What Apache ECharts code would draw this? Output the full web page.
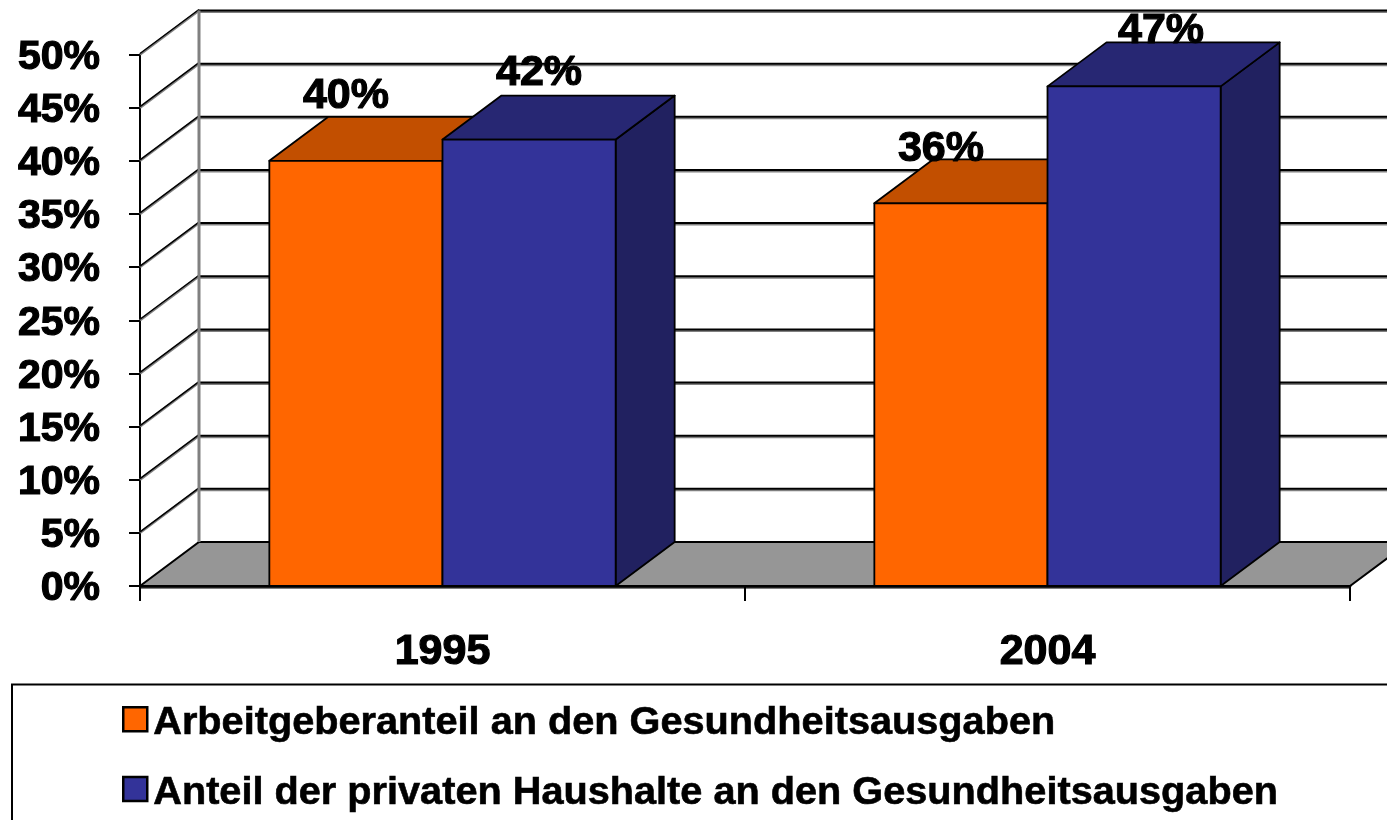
<!DOCTYPE html>
<html><head><meta charset="utf-8">
<style>html,body{margin:0;padding:0;background:#fff}#c{width:1387px;height:820px}</style>
<script src="https://cdn.jsdelivr.net/npm/echarts@6/dist/echarts.min.js"></script>
</head><body><div id="c"></div>
<script>
const categories = ['1995', '2004'];
const seriesNames = ['Arbeitgeberanteil an den Gesundheitsausgaben', 'Anteil der privaten Haushalte an den Gesundheitsausgaben'];
const employerShare = [40, 36];
const householdShare = [42, 47];
const axisTicks = [0, 5, 10, 15, 20, 25, 30, 35, 40, 45, 50];

const DX = 59, DY = 44;
const BAR_RATIO = 0.2862;
const FONT = '"Liberation Sans", Arial, sans-serif';
// manual label placement from the reference, relative to bar front-top centre: [dx, dy]
const employerNudge = [[-10, -65], [-20, -54]];
const householdNudge = [[10, -66], [27, -55]];

function prism(api, seriesIdx, colors, nudges) {
  const cat = api.value(0), val = api.value(1);
  const base = api.coord([cat, 0]);
  const top = api.coord([cat, val]);
  const w = api.size([1, 0])[0] * BAR_RATIO;
  const x0 = base[0] + (seriesIdx === 0 ? -w : 0), x1 = x0 + w;
  const border = {stroke: '#000', lineWidth: 1.8, lineJoin: 'round'};
  const n = nudges[cat];
  return {type: 'group', children: [
    {type: 'polygon', shape: {points: [[x1, base[1]], [x1 + DX, base[1] - DY], [x1 + DX, top[1] - DY], [x1, top[1]]]},
      style: Object.assign({fill: colors.side}, border)},
    {type: 'polygon', shape: {points: [[x0, top[1]], [x0 + DX, top[1] - DY], [x1 + DX, top[1] - DY], [x1, top[1]]]},
      style: Object.assign({fill: colors.top}, border)},
    {type: 'rect', shape: {x: x0, y: top[1], width: w, height: base[1] - top[1]},
      style: Object.assign({fill: colors.front}, border)},
    {type: 'text', z2: 50, style: {x: (x0 + x1) / 2 + n[0], y: top[1] + n[1], text: val + '%',
      font: 'bold 43px ' + FONT, fill: '#000', stroke: '#000', lineWidth: 1.2, align: 'center', verticalAlign: 'middle'}}
  ]};
}

const chart = echarts.init(document.getElementById('c'), null, {renderer: 'canvas'});
const option = {
  animation: false,
  backgroundColor: '#fff',
  grid: {left: 140, right: 37, top: 54.5, bottom: 234},
  xAxis: {
    type: 'category', data: categories, boundaryGap: true,
    axisLine: {lineStyle: {color: '#000', width: 2.5}},
    axisTick: {show: true, length: 15, lineStyle: {color: '#000', width: 2}},
    axisLabel: {color: '#000', fontFamily: FONT, fontWeight: 'bold', fontSize: 43, margin: 45,
      textBorderColor: '#000', textBorderWidth: 1.2},
    z: 6
  },
  yAxis: {
    type: 'value', min: 0, max: 50, interval: 5,
    axisLine: {show: true, lineStyle: {color: '#000', width: 2}},
    axisTick: {show: true, length: 11, lineStyle: {color: '#000', width: 2}},
    axisLabel: {color: '#000', fontFamily: FONT, fontWeight: 'bold', fontSize: 41, margin: 40,
      verticalAlign: 'top', lineHeight: 6,
      formatter: '{value}%', textBorderColor: '#000', textBorderWidth: 1.2},
    splitLine: {show: false}
  },
  legend: {
    show: true, selectedMode: false, orient: 'vertical', left: 117, top: 698, height: 300, padding: 5,
    itemWidth: 24, itemHeight: 24, itemGap: 29, icon: 'rect',
    itemStyle: {borderColor: '#000', borderWidth: 2.5},
    formatter: name => '{a|' + name + '}',
    textStyle: {color: '#000', fontFamily: FONT, fontWeight: 'bold', fontSize: 39.7,
      textBorderColor: '#000', textBorderWidth: 0.6,
      rich: {a: {color: '#000', fontFamily: FONT, fontWeight: 'bold', fontSize: 39.7, padding: [8, 0, 0, 1],
        textBorderColor: '#000', textBorderWidth: 0.6}}},
    data: seriesNames
  },
  graphic: [{type: 'rect', z: -1, shape: {x: 12, y: 684.5, width: 1500, height: 300},
    style: {fill: '#fff', stroke: '#000', lineWidth: 2}}],
  series: [
    {
      name: 'walls', type: 'custom', coordinateSystem: 'cartesian2d', silent: true, z: 1,
      data: axisTicks.map(t => [0, t]),
      encode: {x: 0, y: 1},
      renderItem(params, api) {
        const t = api.value(1);
        const p = api.coord([0, t]);
        const left = params.coordSys.x, right = left + params.coordSys.width;
        const y = p[1];
        const kids = [];
        if (t === 0) {
          kids.push({type: 'polygon', shape: {points: [[left, y], [left + DX, y - DY], [right + DX, y - DY], [right, y]]},
            style: {fill: '#969696', stroke: '#000', lineWidth: 2}});
          kids.push({type: 'line', shape: {x1: left, y1: y + 2, x2: right, y2: y + 2}, style: {stroke: '#808080', lineWidth: 2}});
        } else {
          kids.push({type: 'line', shape: {x1: left, y1: y, x2: left + DX, y2: y - DY}, style: {stroke: '#808080', lineWidth: 2.5}});
          kids.push({type: 'line', shape: {x1: left, y1: y - 1, x2: left + DX, y2: y - DY - 1}, style: {stroke: '#000', lineWidth: 1.5}});
          kids.push({type: 'line', shape: {x1: left + DX, y1: y - DY + 1.5, x2: right + DX, y2: y - DY + 1.5}, style: {stroke: '#808080', lineWidth: 2}});
          kids.push({type: 'line', shape: {x1: left + DX, y1: y - DY, x2: right + DX, y2: y - DY}, style: {stroke: '#000', lineWidth: 2}});
        }
        if (t === 50) {
          const y0 = api.coord([0, 0])[1];
          kids.push({type: 'line', shape: {x1: left + DX, y1: y - DY, x2: left + DX, y2: y0 - DY}, style: {stroke: '#808080', lineWidth: 3}});
        }
        return {type: 'group', children: kids};
      }
    },
    {
      name: seriesNames[0], type: 'custom', coordinateSystem: 'cartesian2d', z: 3,
      itemStyle: {color: '#FF6600'},
      data: employerShare.map((v, i) => [i, v]),
      encode: {x: 0, y: 1},
      renderItem(params, api) {
        return prism(api, 0, {front: '#FF6600', top: '#C24F00', side: '#C24F00'}, employerNudge);
      }
    },
    {
      name: seriesNames[1], type: 'custom', coordinateSystem: 'cartesian2d', z: 4,
      itemStyle: {color: '#333399'},
      data: householdShare.map((v, i) => [i, v]),
      encode: {x: 0, y: 1},
      renderItem(params, api) {
        return prism(api, 1, {front: '#333399', top: '#272773', side: '#212160'}, householdNudge);
      }
    }
  ]
};
chart.setOption(option);
</script></body></html>
